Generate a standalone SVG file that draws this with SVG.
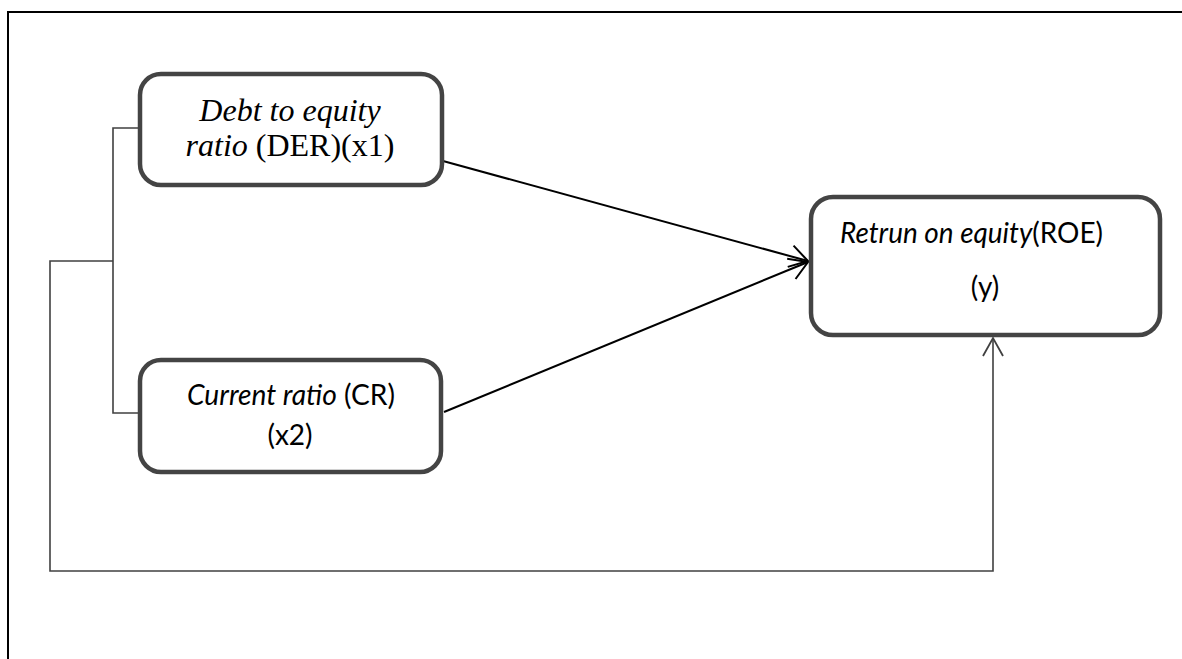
<svg xmlns="http://www.w3.org/2000/svg" width="1182" height="659" viewBox="0 0 1182 659">
<style>
.node{fill:#fff;stroke:#444;stroke-width:4.5}
.conn{fill:none;stroke:#000;stroke-width:2}
.thin{fill:none;stroke:#404040;stroke-width:1.6}
.tnr{font-family:"Liberation Serif","Times New Roman",serif;font-size:32px;fill:#000}
.cal{font-family:Lato,"Liberation Sans",sans-serif;font-size:28px;fill:#000}
</style>
<defs>
<marker id="arr" markerUnits="userSpaceOnUse" markerWidth="24" markerHeight="28" refX="19" refY="12" orient="auto" viewBox="0 0 24 24">
<path d="M1,1 L19,12 L1,23" fill="none" stroke="#000" stroke-width="2"/>
</marker>
<marker id="arr2" markerUnits="userSpaceOnUse" markerWidth="24" markerHeight="24" refX="19" refY="11" orient="auto" viewBox="0 0 24 22">
<path d="M1,1 L19,11 L1,21" fill="none" stroke="#404040" stroke-width="1.8"/>
</marker>
</defs>
<g id="frame">
<path d="M8,659 L8,12 L1182,12" fill="none" stroke="#000" stroke-width="2"/>
</g>
<g id="connectors">
<path class="thin" d="M140,128 L113,128 L113,413 L140,413"/>
<path class="thin" d="M113,261 L50,261 L50,571 L993,571 L993,338" marker-end="url(#arr2)"/>
<path class="conn" d="M443,161 L808,261" marker-end="url(#arr)"/>
<path class="conn" d="M444,412 L808,262" marker-end="url(#arr)"/>
</g>
<g id="node-der">
<rect class="node" x="140" y="74" width="302" height="111" rx="21"/>
<text class="tnr" x="290" y="121" text-anchor="middle"><tspan font-style="italic">Debt to equity</tspan></text>
<text class="tnr" x="290" y="156" text-anchor="middle"><tspan font-style="italic">ratio</tspan> (DER)(x1)</text>
</g>
<g id="node-cr">
<rect class="node" x="140" y="360" width="301" height="112" rx="21"/>
<text class="cal" x="187" y="405" textLength="208" lengthAdjust="spacingAndGlyphs"><tspan font-style="italic">Current ratio</tspan> (CR)</text>
<text class="cal" x="290" y="445" text-anchor="middle">(x2)</text>
</g>
<g id="node-roe">
<rect class="node" x="811" y="197" width="349" height="138" rx="22"/>
<text class="cal" x="840" y="243" textLength="263" lengthAdjust="spacingAndGlyphs"><tspan font-style="italic">Retrun on equity</tspan>(ROE)</text>
<text class="cal" x="985" y="297" text-anchor="middle">(y)</text>
</g>
</svg>
